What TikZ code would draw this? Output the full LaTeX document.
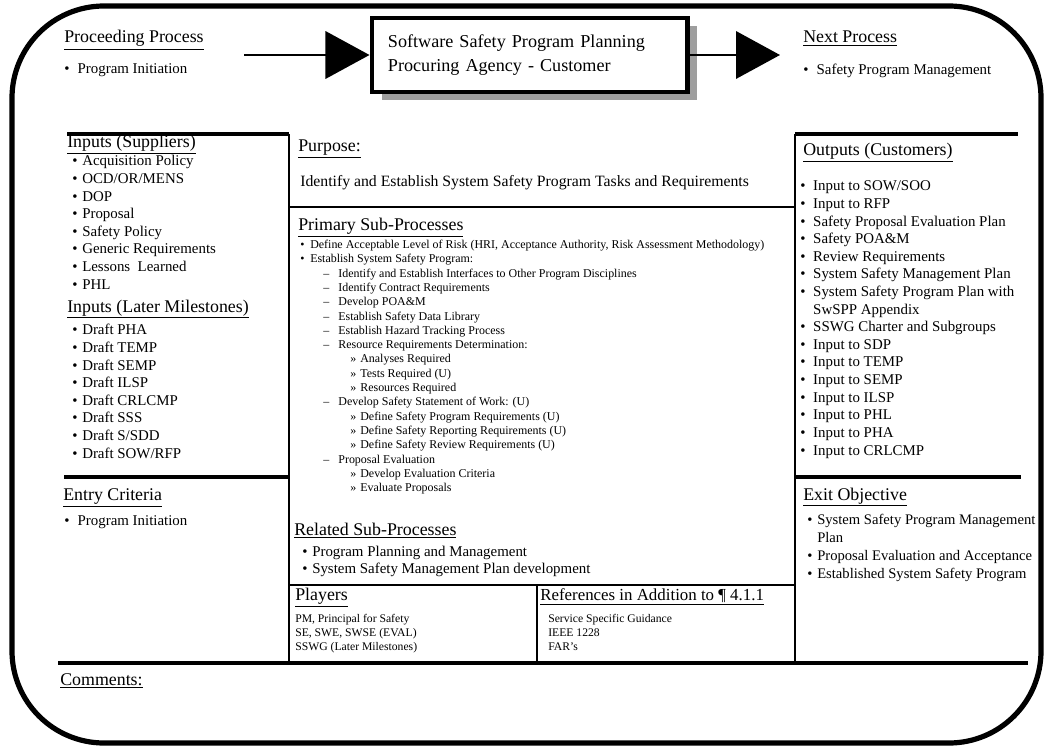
\documentclass[tikz,border=0pt]{standalone}
\usepackage{fontspec}
\setmainfont{Liberation Serif}
\usetikzlibrary{arrows.meta, shadows}

% list markers
\newcommand{\bul}[1][7.1pt]{\makebox[#1][l]{\textbullet}}
\newcommand{\subA}{\hspace*{16.4pt}\makebox[10.7pt][l]{\textendash}}
\newcommand{\subB}{\hspace*{35.6pt}\makebox[7.1pt][l]{»}}

\begin{document}
\begin{tikzpicture}[x=0.025cm, y=-0.025cm,
    % multi-line nodes sit on the baseline of their last line
    txt/.style={anchor=base west, inner sep=0pt, align=left},
    head/.style={txt, font=\fontsize{12.7}{15}\selectfont},
    item/.style={txt, font=\fontsize{10.6}{12.52}\selectfont},
    fine/.style={txt, font=\fontsize{8.5}{10.17}\selectfont},
    tiny/.style={txt, font=\fontsize{8.3}{9.75}\selectfont},
    rule/.style={line width=1.8pt},
    heavy/.style={line width=2.4pt},
    flow/.style={line width=2.1pt, -{Triangle[length=1.1cm, width=1.18cm]}}]
  \useasboundingbox (0,0) rectangle (1050,748);

  % outer frame
  \draw[line width=3.7pt, rounded corners=2.3cm] (12,6) rectangle (1041,743);

  % process flow along the top
  \node[draw, line width=3.5pt, fill=white, minimum width=7.875cm, minimum height=1.85cm,
        text width=7.075cm, inner xsep=0.4cm, align=left,
        font=\fontsize{12.9}{17}\selectfont,
        drop shadow={shadow xshift=0.25cm, shadow yshift=-0.2cm, fill=black!38, opacity=1}]
    (title) at (529.5,55) {Software Safety Program Planning\\Procuring Agency - Customer};
  \coordinate (src) at (244,55);
  \coordinate (dst) at (780,55);
  \draw[flow] (src) -- (title);
  \draw[flow] (title) -- (dst);

  \node[head] (procHead) at (64,43) {\underline{Proceeding Process}};
  \node[item] (procItem) at (64,74) {\bul[9.5pt]Program Initiation};
  \node[head] (nextHead) at (803,43) {\underline{Next Process}};
  \node[item] (nextItem) at (803,75) {\bul[9.5pt]Safety Program Management};

  % table rules
  \draw[heavy] (67,134) -- (289,134);
  \draw[rule] (289,134) -- (289,663);
  \draw[heavy] (64,477) -- (289,477);
  \draw[rule] (289,207) -- (795,207);
  \draw[rule] (289,585) -- (795,585);
  \draw[rule] (537,585) -- (537,663);
  \draw[heavy] (795,134) -- (1018,134);
  \draw[rule] (795,134) -- (795,663);
  \draw[heavy] (795,477) -- (1021,477);
  \draw[heavy] (58,663) -- (1028,663);

  % left column
  \node[head] (supHead) at (67,148) {\underline{Inputs (Suppliers)}};
  \node[item] (supList) at (72,289.2) {\bul Acquisition Policy\\\bul OCD/OR/MENS\\\bul DOP\\
    \bul Proposal\\\bul Safety Policy\\\bul Generic Requirements\\\bul Lessons\ \ Learned\\\bul PHL};
  \node[head] (laterHead) at (67,312) {\underline{Inputs (Later Milestones)}};
  \node[item] (laterList) at (72,458.2) {\bul Draft PHA\\\bul Draft TEMP\\\bul Draft SEMP\\
    \bul Draft ILSP\\\bul Draft CRLCMP\\\bul Draft SSS\\\bul Draft S/SDD\\\bul Draft SOW/RFP};
  \node[head] (entryHead) at (63,500) {\underline{Entry Criteria}};
  \node[item] (entryItem) at (64,525) {\bul[9.5pt]Program Initiation};

  % middle column
  \node[head] (purpHead) at (298,152) {\underline{Purpose:}};
  \node[txt, font=\fontsize{11.2}{14}\selectfont] (purpText) at (300,187)
    {Identify and Establish System Safety Program Tasks and Requirements};
  \node[head] (primHead) at (298,230) {\underline{Primary Sub-Processes}};
  \node[fine] (primList) at (300,491.7) {%
    \bul Define Acceptable Level of Risk (HRI, Acceptance Authority, Risk Assessment Methodology)\\
    \bul Establish System Safety Program:\\
    \subA Identify and Establish Interfaces to Other Program Disciplines\\
    \subA Identify Contract Requirements\\
    \subA Develop POA\&M\\
    \subA Establish Safety Data Library\\
    \subA Establish Hazard Tracking Process\\
    \subA Resource Requirements Determination:\\
    \subB Analyses Required\\
    \subB Tests Required (U)\\
    \subB Resources Required\\
    \subA Develop Safety Statement of Work: (U)\\
    \subB Define Safety Program Requirements (U)\\
    \subB Define Safety Reporting Requirements (U)\\
    \subB Define Safety Review Requirements (U)\\
    \subA Proposal Evaluation\\
    \subB Develop Evaluation Criteria\\
    \subB Evaluate Proposals};
  \node[head] (relHead) at (294,535) {\underline{Related Sub-Processes}};
  \node[item, font=\fontsize{10.6}{11.4}\selectfont] (relList) at (302,573)
    {\bul Program Planning and Management\\\bul System Safety Management Plan development};
  \node[head] (playHead) at (295,600) {\underline{Players}};
  \node[tiny] (playList) at (295,650.4)
    {PM, Principal for Safety\\SE, SWE, SWSE (EVAL)\\SSWG (Later Milestones)};
  \node[txt, font=\fontsize{12}{14}\selectfont] (refHead) at (540,600)
    {\underline{References in Addition to ¶ 4.1.1}};
  \node[tiny] (refList) at (548,650.4) {Service Specific Guidance\\IEEE 1228\\FAR's};

  % right column
  \node[head] (outHead) at (803,156) {\underline{Outputs (Customers)}};
  \node[item] (outList) at (800,455) {\bul[9.2pt]Input to SOW/SOO\\\bul[9.2pt]Input to RFP\\
    \bul[9.2pt]Safety Proposal Evaluation Plan\\\bul[9.2pt]Safety POA\&M\\
    \bul[9.2pt]Review Requirements\\\bul[9.2pt]System Safety Management Plan\\
    \bul[9.2pt]System Safety Program Plan with\\\hspace*{9.2pt}SwSPP Appendix\\
    \bul[9.2pt]SSWG Charter and Subgroups\\\bul[9.2pt]Input to SDP\\\bul[9.2pt]Input to TEMP\\
    \bul[9.2pt]Input to SEMP\\\bul[9.2pt]Input to ILSP\\\bul[9.2pt]Input to PHL\\
    \bul[9.2pt]Input to PHA\\\bul[9.2pt]Input to CRLCMP};
  \node[head] (exitHead) at (803,500) {\underline{Exit Objective}};
  \node[item, font=\fontsize{10.4}{12.6}\selectfont] (exitList) at (807,578.1)
    {\bul System Safety Program Management\\\hspace*{7.1pt}Plan\\
     \bul Proposal Evaluation and Acceptance\\\bul Established System Safety Program};

  \node[head] (comHead) at (60,685) {\underline{Comments:}};
\end{tikzpicture}
\end{document}
